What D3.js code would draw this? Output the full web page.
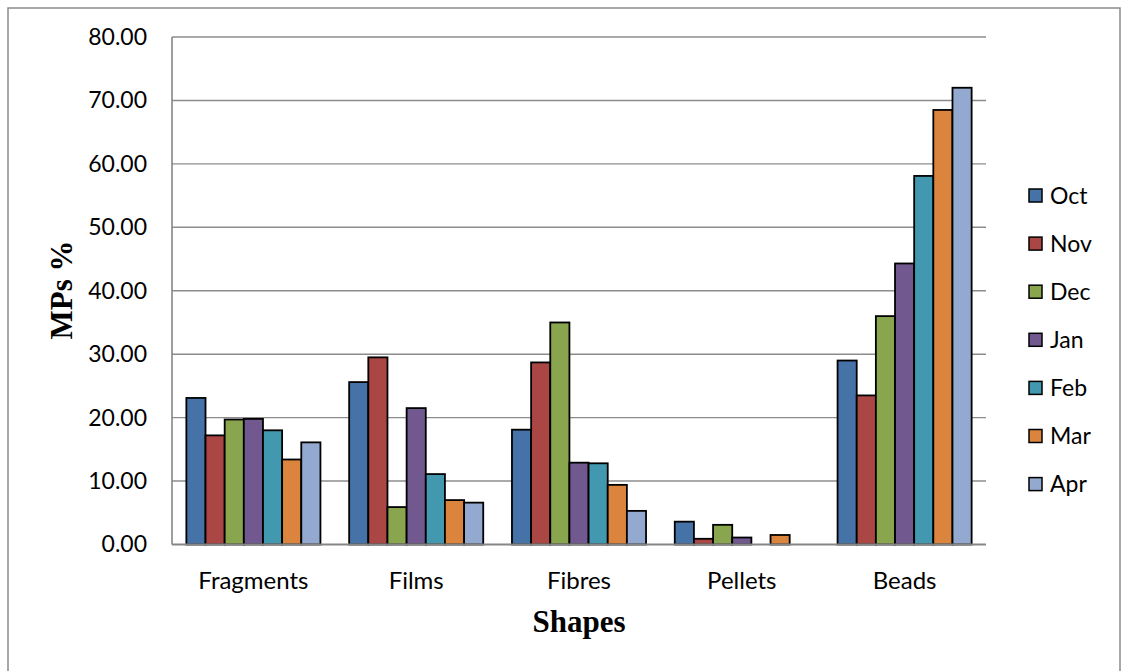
<!DOCTYPE html>
<html>
<head>
<meta charset="utf-8">
<script src="https://cdn.jsdelivr.net/npm/d3@7"></script>
<style>
  html, body { margin: 0; padding: 0; background: #fff; }
  svg { display: block; }
</style>
</head>
<body>
<svg id="chart" width="1122" height="671"></svg>
<script>
// Microplastic shape composition by month (% of particles)
const shapes = ["Fragments", "Films", "Fibres", "Pellets", "Beads"];
const months = ["Oct", "Nov", "Dec", "Jan", "Feb", "Mar", "Apr"];

const oct = [23.1, 25.6, 18.1, 3.6, 29.0];
const nov = [17.2, 29.5, 28.7, 0.9, 23.5];
const dec = [19.7, 5.9, 35.0, 3.1, 36.0];
const jan = [19.8, 21.5, 12.9, 1.1, 44.3];
const feb = [18.0, 11.1, 12.8, 0.0, 58.1];
const mar = [13.4, 7.0, 9.4, 1.5, 68.5];
const apr = [16.1, 6.6, 5.3, 0.0, 72.0];

const yTicks = [0, 10, 20, 30, 40, 50, 60, 70, 80];
const colors = ["#4572A7", "#AA4643", "#89A54E", "#71588F", "#4198AF", "#DB843D", "#93A9CF"];

const seriesValues = [oct, nov, dec, jan, feb, mar, apr];

const svg = d3.select("#chart");
const font = "Lato, 'Open Sans', sans-serif";

// outer chart frame
svg.append("rect")
  .attr("x", 8).attr("y", 8)
  .attr("width", 1112).attr("height", 700)
  .attr("fill", "none").attr("stroke", "#8a8a8a").attr("stroke-width", 1.5);

const plot = { left: 172, right: 986, top: 37, bottom: 544.5 };

const x0 = d3.scaleBand().domain(shapes).range([plot.left, plot.right]);
const x1 = d3.scaleBand().domain(months).range([0, x0.bandwidth()])
  .paddingInner(0).paddingOuter(0.75);
const y = d3.scaleLinear().domain([0, 80]).range([plot.bottom, plot.top]);
const color = d3.scaleOrdinal().domain(months).range(colors);

// horizontal gridlines
svg.append("g")
  .selectAll("line")
  .data(yTicks.filter(t => t > 0))
  .join("line")
  .attr("x1", plot.left).attr("x2", plot.right)
  .attr("y1", d => y(d)).attr("y2", d => y(d))
  .attr("stroke", "#8c8c8c").attr("stroke-width", 1.4);

// y axis labels
const yAxis = svg.append("g")
  .attr("transform", `translate(${plot.left},0)`)
  .call(d3.axisLeft(y).tickValues(yTicks).tickFormat(d3.format(".2f")).tickSize(0).tickPadding(25));
yAxis.select(".domain").remove();
yAxis.selectAll("text")
  .attr("font-family", font).attr("font-size", 23).attr("fill", "#000");

// bars
const rows = shapes.map((s, i) => ({ shape: s, values: months.map((m, j) => ({ month: m, value: seriesValues[j][i] })) }));

svg.append("g")
  .selectAll("g")
  .data(rows)
  .join("g")
  .attr("transform", d => `translate(${x0(d.shape)},0)`)
  .selectAll("rect")
  .data(d => d.values.filter(v => v.value > 0))
  .join("rect")
  .attr("x", d => x1(d.month))
  .attr("y", d => y(d.value))
  .attr("width", x1.bandwidth())
  .attr("height", d => y(0) - y(d.value))
  .attr("fill", d => color(d.month))
  .attr("stroke", "#000").attr("stroke-width", 1.8);

// axis lines
svg.append("line")
  .attr("x1", plot.left).attr("x2", plot.left)
  .attr("y1", plot.top).attr("y2", plot.bottom)
  .attr("stroke", "#868686").attr("stroke-width", 1.6);
svg.append("line")
  .attr("x1", plot.left).attr("x2", plot.right)
  .attr("y1", plot.bottom).attr("y2", plot.bottom)
  .attr("stroke", "#868686").attr("stroke-width", 2);

// category labels
const xAxis = svg.append("g")
  .attr("transform", `translate(0,${plot.bottom})`)
  .call(d3.axisBottom(x0).tickSize(0).tickPadding(27));
xAxis.select(".domain").remove();
xAxis.selectAll("text")
  .attr("font-family", font).attr("font-size", 24).attr("fill", "#000");

// axis titles
svg.append("text")
  .attr("x", (plot.left + plot.right) / 2).attr("y", 632)
  .attr("text-anchor", "middle")
  .attr("font-family", "'Liberation Serif', 'Times New Roman', serif")
  .attr("font-weight", "bold").attr("font-size", 31)
  .text("Shapes");

svg.append("text")
  .attr("transform", "translate(72,290) rotate(-90)")
  .attr("text-anchor", "middle")
  .attr("font-family", "'Liberation Serif', 'Times New Roman', serif")
  .attr("font-weight", "bold").attr("font-size", 31)
  .text("MPs %");

// legend
const legend = svg.append("g")
  .selectAll("g")
  .data(months)
  .join("g")
  .attr("transform", (d, i) => `translate(1029,${195.5 + i * 48.1})`);
legend.append("rect")
  .attr("x", 0).attr("y", -6.5)
  .attr("width", 13).attr("height", 13)
  .attr("fill", d => color(d))
  .attr("stroke", "#000").attr("stroke-width", 1.5);
legend.append("text")
  .attr("x", 21).attr("y", 0).attr("dy", "0.36em")
  .attr("font-family", font).attr("font-size", 23).attr("fill", "#000")
  .text(d => d);
</script>
</body>
</html>
